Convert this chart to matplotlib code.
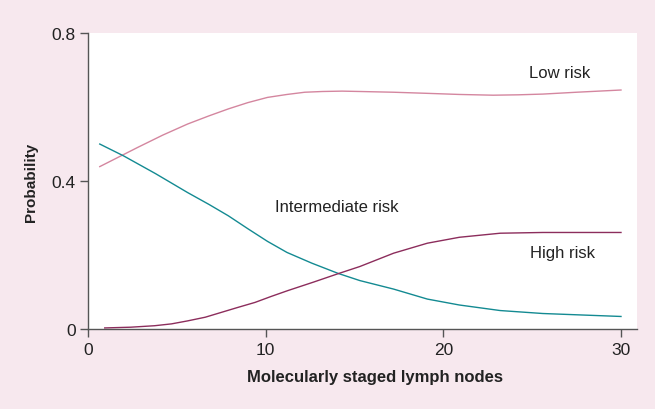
import numpy as np
import matplotlib
matplotlib.use("Agg")
import matplotlib.pyplot as plt

plt.rcParams['font.family'] = ['Liberation Sans', 'DejaVu Sans']

# values
x_low = [0.66, 2.8, 4.2, 5.6, 6.8, 7.9, 9.0, 10.1, 11.2, 12.2, 13.2, 14.3, 15.3, 17.2, 19.1, 20.9, 22.8, 24.2, 25.6, 27.5, 30.0]
low = [0.439, 0.491, 0.524, 0.554, 0.576, 0.595, 0.612, 0.626, 0.634, 0.640, 0.642, 0.643, 0.642, 0.640, 0.637, 0.634, 0.632, 0.633, 0.635, 0.640, 0.646]

x_int = [0.66, 2.0, 3.8, 5.6, 6.8, 7.9, 9.0, 10.1, 11.2, 12.6, 14.1, 15.3, 17.2, 19.1, 20.9, 23.2, 25.6, 27.8, 30.0]
inter = [0.500, 0.468, 0.420, 0.369, 0.337, 0.306, 0.271, 0.237, 0.207, 0.178, 0.150, 0.131, 0.108, 0.081, 0.065, 0.050, 0.042, 0.038, 0.034]

x_high = [0.94, 2.4, 3.75, 4.7, 5.6, 6.6, 7.5, 8.4, 9.4, 10.3, 11.25, 12.7, 14.1, 15.3, 17.2, 19.1, 20.9, 23.2, 25.6, 27.8, 30.0]
high = [0.003, 0.005, 0.009, 0.014, 0.022, 0.032, 0.045, 0.058, 0.072, 0.088, 0.104, 0.127, 0.150, 0.169, 0.205, 0.232, 0.248, 0.259, 0.261, 0.261, 0.261]

x_ticks = [0, 10, 20, 30]
y_ticks = [0, 0.4, 0.8]
y_tick_labels = ["0", "0.4", "0.8"]

bg = "#f7e8ee"
fig = plt.figure(figsize=(6.55, 4.1), dpi=100, facecolor=bg)
ax = fig.add_axes([0.1344, 0.195, 0.8381, 0.722])
ax.set_facecolor("white")

ax.plot(x_low, low, color="#d4869f", lw=1.0)
ax.plot(x_int, inter, color="#138a92", lw=1.0)
ax.plot(x_high, high, color="#8c2d5c", lw=1.0)

ax.text(26.56, 0.692, "Low risk", ha="center", va="center", fontsize=12, color="#222222")
ax.text(10.52, 0.330, "Intermediate risk", ha="left", va="center", fontsize=12, color="#222222")
ax.text(24.87, 0.208, "High risk", ha="left", va="center", fontsize=12, color="#222222")

ax.set_xlim(0, 30.9)
ax.set_ylim(0, 0.8)
ax.set_xticks(x_ticks)
ax.set_yticks(y_ticks)
ax.set_yticklabels(y_tick_labels)

for s in ["top", "right"]:
    ax.spines[s].set_visible(False)
for s in ["left", "bottom"]:
    ax.spines[s].set_color("#555555")
    ax.spines[s].set_linewidth(1.0)
ax.tick_params(direction="out", length=6, width=1.0, color="#555555",
               labelsize=12.5, labelcolor="#222222", pad=3)

ax.set_xlabel("Molecularly staged lymph nodes", fontsize=12, fontweight="bold", color="#222222")
ax.set_ylabel("Probability", fontsize=11, fontweight="bold", color="#222222")
ax.xaxis.set_label_coords(0.523, -0.135)
ax.yaxis.set_label_coords(-0.091, 0.5)

fig.savefig("out.png", dpi=100, facecolor=bg)
